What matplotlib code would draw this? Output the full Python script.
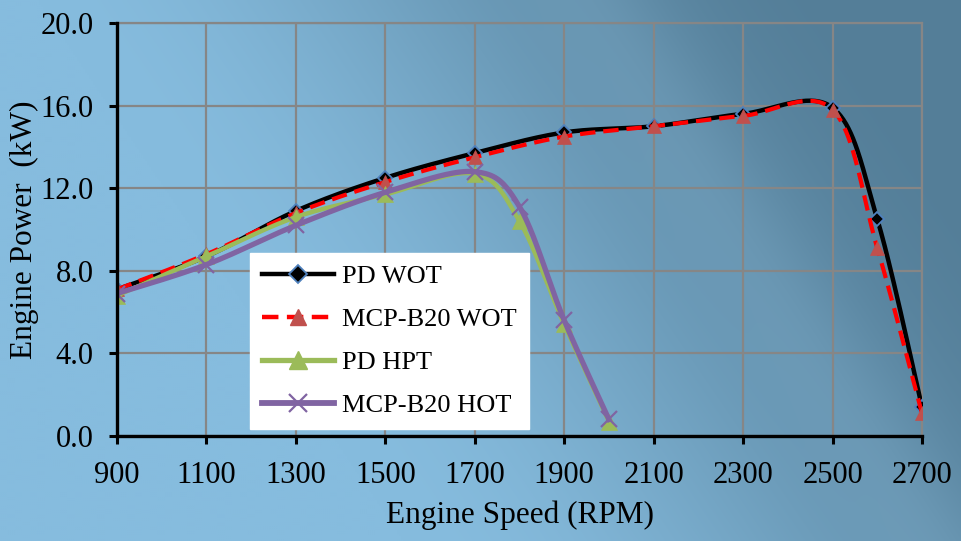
import numpy as np
import matplotlib
matplotlib.use("Agg")
import matplotlib.pyplot as plt
from matplotlib.lines import Line2D

# ---------------- data ----------------
speed_wot = [900, 1100, 1300, 1500, 1700, 1900, 2100, 2300, 2500, 2600, 2700]
pd_wot = [7.1, 8.7, 10.9, 12.5, 13.7, 14.7, 15.0, 15.6, 15.9, 10.5, 1.4]
mcp_wot = [7.1, 8.8, 10.8, 12.3, 13.5, 14.5, 15.0, 15.5, 15.8, 9.1, 1.1]

speed_part = [900, 1100, 1300, 1500, 1700, 1800, 1900, 2000]
pd_hpt = [6.8, 8.7, 10.6, 11.7, 12.7, 10.4, 5.4, 0.7]
mcp_hot = [6.9, 8.3, 10.2, 11.8, 12.8, 11.1, 5.6, 0.8]

x_ticks = [900, 1100, 1300, 1500, 1700, 1900, 2100, 2300, 2500, 2700]
y_ticks = [0.0, 4.0, 8.0, 12.0, 16.0, 20.0]

labels = ["PD WOT", "MCP-B20 WOT", "PD HPT", "MCP-B20 HOT"]


def smooth(xs, ys, n=40):
    """Excel-style smoothed line (Catmull-Rom Bezier) through the points."""
    P = np.column_stack([xs, ys]).astype(float)
    out = []
    m = len(P)
    t = np.linspace(0, 1, n)[:, None]
    for i in range(m - 1):
        p0 = P[i]
        p3 = P[i + 1]
        pm = P[i - 1] if i > 0 else P[i]
        pp = P[i + 2] if i + 2 < m else P[i + 1]
        c1 = p0 + (p3 - pm) / 6.0
        c2 = p3 - (pp - p0) / 6.0
        seg = ((1 - t) ** 3) * p0 + 3 * ((1 - t) ** 2) * t * c1 + 3 * (1 - t) * t ** 2 * c2 + t ** 3 * p3
        out.append(seg if i == 0 else seg[1:])
    arr = np.vstack(out)
    return arr[:, 0], arr[:, 1]


plt.rcParams['font.family'] = ['Liberation Serif', 'DejaVu Serif']

fig = plt.figure(figsize=(9.61, 5.41), dpi=100)

# background gradient
bg = fig.add_axes([0, 0, 1, 1], zorder=-10)
W, H = 481, 271
px = np.linspace(0, 1, W)[None, :]
py = np.linspace(0, 1, H)[:, None]  # 0 top
u = px + 0.38 * (1 - py)
s = np.clip((u - 0.42) / 0.85, 0, 1)
s = s * s * (3 - 2 * s)
light = np.array([134, 188, 222]) / 255.0
dark = np.array([84, 126, 152]) / 255.0
img = light[None, None, :] * (1 - s[..., None]) + dark[None, None, :] * s[..., None]
# soft lighter diagonal streak
streak = np.exp(-((px - 0.35 * py - 0.62) / 0.07) ** 2) * 0.035
img = np.clip(img + streak[..., None], 0, 1)
bg.imshow(img, aspect='auto', extent=[0, 1, 0, 1], origin='upper', interpolation='bilinear')
bg.set_axis_off()

ax = fig.add_axes([117 / 961, 105 / 541, 805 / 961, 413 / 541])
ax.set_facecolor('none')

ax.set_xlim(900, 2700)
ax.set_ylim(0, 20)
ax.set_xticks(x_ticks)
ax.set_yticks(y_ticks)
ax.set_xticklabels([str(v) for v in x_ticks])
ax.set_yticklabels([f"{v:.1f}" for v in y_ticks])
ax.grid(True, color='#868686', linewidth=1.6)
ax.set_axisbelow(True)

for side in ['top', 'right']:
    ax.spines[side].set_color('#868686')
    ax.spines[side].set_linewidth(1.6)
for side in ['left', 'bottom']:
    ax.spines[side].set_color('black')
    ax.spines[side].set_linewidth(2.4)
    ax.spines[side].set_zorder(5)

ax.tick_params(axis='both', direction='out', length=6, width=2.2, color='black',
               labelsize=22, labelcolor='black')
ax.tick_params(axis='y', pad=11)
ax.tick_params(axis='x', pad=12)

ax.set_xlabel("Engine Speed (RPM)", fontsize=22.5)
ax.set_ylabel("Engine Power  (kW)", fontsize=22.5)
ax.xaxis.set_label_coords(0.5, -0.155)
ax.yaxis.set_label_coords(-0.097, 0.5)

# series
blk_c = 'black'
red_c = '#FF0000'
tri_red = '#C0504D'
grn_c = '#9BBB59'
pur_c = '#8064A2'
blue_edge = '#4F81BD'

sx, sy = smooth(speed_wot, pd_wot)
ax.plot(sx, sy, color=blk_c, lw=3.2, solid_capstyle='round', zorder=3)
ax.plot(speed_wot, pd_wot, ls='none', marker='D', ms=7.5, mfc='black', mec=blue_edge, mew=1.3, zorder=3.1)

sx, sy = smooth(speed_wot, mcp_wot)
ax.plot(sx, sy, color=red_c, lw=3.0, ls=(0, (3.7, 1.9)), dash_capstyle='butt', zorder=3.2)
ax.plot(speed_wot, mcp_wot, ls='none', marker='^', ms=10, mfc=tri_red, mec=tri_red, mew=0.5, zorder=3.3)

sx, sy = smooth(speed_part, pd_hpt)
ax.plot(sx, sy, color=grn_c, lw=3.2, zorder=3.4)
ax.plot(speed_part, pd_hpt, ls='none', marker='^', ms=11, mfc=grn_c, mec=grn_c, mew=0.5, zorder=3.5)

sx, sy = smooth(speed_part, mcp_hot)
ax.plot(sx, sy, color=pur_c, lw=3.8, zorder=3.6)
ax.plot(speed_part, mcp_hot, ls='none', marker='x', ms=11, mec=pur_c, mew=1.6, zorder=3.7)

handles = [
    Line2D([], [], color=blk_c, lw=3.2, marker='D', ms=9, mfc='black', mec=blue_edge, mew=1.3),
    Line2D([], [], color=red_c, lw=3.2, ls=(0, (3.7, 1.9)), marker='^', ms=12, mfc=tri_red, mec=tri_red),
    Line2D([], [], color=grn_c, lw=3.8, marker='^', ms=13, mfc=grn_c, mec=grn_c),
    Line2D([], [], color=pur_c, lw=4.2, marker='x', ms=13, mec=pur_c, mew=1.6),
]
leg = ax.legend(handles, labels, loc='lower left', bbox_to_anchor=(0.165, 0.017),
                fontsize=19, frameon=True, fancybox=False, framealpha=1.0,
                edgecolor='white', facecolor='white', handlelength=2.75,
                handletextpad=0.3, labelspacing=0.74, borderpad=0.45, borderaxespad=0)
leg.set_zorder(10)

fig.savefig("out.png", dpi=100)
